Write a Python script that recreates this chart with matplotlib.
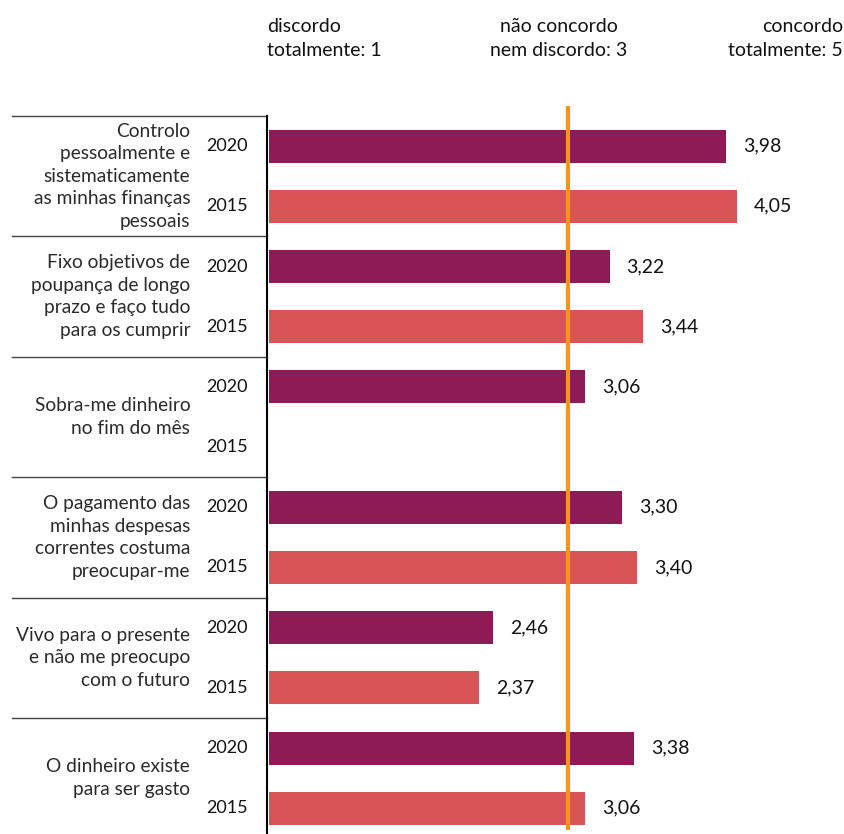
import matplotlib.pyplot as plt

# statements and mean scores (1 = discordo totalmente, 5 = concordo totalmente)
categories = [
    "Controlo\npessoalmente e\nsistematicamente\nas minhas finanças\npessoais",
    "Fixo objetivos de\npoupança de longo\nprazo e faço tudo\npara os cumprir",
    "Sobra-me dinheiro\nno fim do mês",
    "O pagamento das\nminhas despesas\ncorrentes costuma\npreocupar-me",
    "Vivo para o presente\ne não me preocupo\ncom o futuro",
    "O dinheiro existe\npara ser gasto",
]
years = ["2020", "2015"]
vals_2020 = [3.98, 3.22, 3.06, 3.30, 2.46, 3.38]
vals_2015 = [4.05, 3.44, None, 3.40, 2.37, 3.06]
neutral = 2.95

c2020 = "#8E1A56"
c2015 = "#D95457"
corange = "#F7941D"

plt.rcParams['font.family'] = ['Lato', 'DejaVu Sans']

W, H = 845, 834
fig = plt.figure(figsize=(W / 100, H / 100), dpi=100)
ax_left, ax_top = 267, 116
ax = fig.add_axes([ax_left / W, 0, (W - ax_left) / W, (H - ax_top) / H])

slot = 60.2
ax.set_xlim(0.99, 4.753)
ax.set_ylim(-0.5 + (H - ax_top) / slot, -0.5)

for i, cat in enumerate(categories):
    y20, y15 = 2 * i, 2 * i + 1
    for y, v, col in [(y20, vals_2020[i], c2020), (y15, vals_2015[i], c2015)]:
        if v is not None:
            ax.barh(y, v - 1, left=1, height=0.55, color=col)
            ax.text(v + 0.11, y, f"{v:.2f}".replace(".", ","), va="center",
                    ha="left", fontsize=14, color="#111111")
    for y, yr in [(y20, years[0]), (y15, years[1])]:
        ax.text(-0.07, y, yr, transform=ax.get_yaxis_transform(),
                ha="center", va="center", fontsize=13, color="#111111")
    ax.text(-0.133, 2 * i + 0.5, cat, transform=ax.get_yaxis_transform(),
            ha="right", va="center", fontsize=13.8, color="#2a2a2a",
            linespacing=1.39)
    # group separator line
    ax.plot([-0.441, 0], [2 * i - 0.5] * 2, transform=ax.get_yaxis_transform(),
            color="#444444", lw=1, clip_on=False)

# neutral reference line
ax.plot([neutral, neutral], [-0.67, 11.36], color=corange, lw=3, clip_on=False,
        zorder=5, solid_capstyle="butt")

for s in ["top", "right", "bottom"]:
    ax.spines[s].set_visible(False)
ax.spines["left"].set_linewidth(1.5)
ax.set_xticks([])
ax.set_yticks([])

# header scale labels
hy = 1 - 38.5 / H
fig.text(267 / W, hy, "discordo\ntotalmente: 1", ha="left", va="center",
         fontsize=14, color="#111111", linespacing=1.5)
fig.text(559 / W, hy, "não concordo\nnem discordo: 3", ha="center",
         va="center", fontsize=14, color="#111111", linespacing=1.5)
fig.text(843 / W, hy, "concordo\ntotalmente: 5", ha="right", va="center",
         fontsize=14, color="#111111", linespacing=1.5)

fig.savefig("out.png", dpi=100)
